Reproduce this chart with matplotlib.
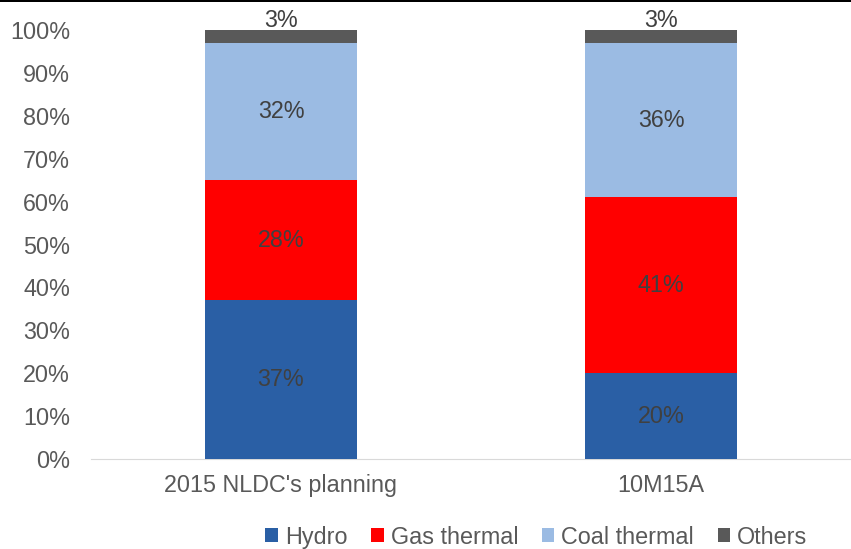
import numpy as np
import matplotlib.pyplot as plt
from matplotlib.patches import Rectangle

plt.rcParams['font.family'] = ['Liberation Sans', 'DejaVu Sans']

categories = ["2015 NLDC's planning", "10M15A"]
series = ["Hydro", "Gas thermal", "Coal thermal", "Others"]
hydro = [37, 20]
gas = [28, 41]
coal = [32, 36]
others = [3, 3]
colors = ["#2A5FA5", "#FF0000", "#9BBBE3", "#595959"]

values = [hydro, gas, coal, others]
fs = 16.8

fig = plt.figure(figsize=(8.51, 5.49), dpi=100)
ax = fig.add_axes([91 / 851, 1 - 459 / 549, 760 / 851, 429 / 549])

x = np.arange(len(categories))
bottom = np.zeros(len(categories))
for name, vals, col in zip(series, values, colors):
    vals = np.array(vals, dtype=float)
    ax.bar(x, vals, 0.4, bottom=bottom, color=col, label=name, zorder=3)
    for xi, b, v in zip(x, bottom, vals):
        if name == "Others":
            ty = b + v + 2.2
        else:
            ty = b + v / 2
        ax.text(xi, ty, "%d%%" % v, ha='center', va='center',
                fontsize=fs, color='#404040', zorder=4)
    bottom += vals

ax.set_xlim(-0.5, 1.5)
ax.set_ylim(0, 100)
ax.set_yticks(np.arange(0, 101, 10))
ax.set_yticklabels(["%d%%" % t for t in range(0, 101, 10)])
ax.set_xticks(x)
ax.set_xticklabels(categories)
ax.tick_params(axis='both', length=0, labelsize=fs, colors='#595959')
ax.tick_params(axis='y', pad=15)
ax.tick_params(axis='x', pad=11)
for s in ['top', 'right', 'left']:
    ax.spines[s].set_visible(False)
ax.spines['bottom'].set_color('#D9D9D9')

ax.legend(loc='center', bbox_to_anchor=(0.586, -0.182), ncol=4, frameon=False,
          fontsize=fs, handlelength=0.55, handleheight=0.55, handletextpad=0.3,
          columnspacing=1.0, labelcolor='#595959')

fig.add_artist(Rectangle((0, 1 - 2 / 549), 1, 2 / 549, transform=fig.transFigure,
                         color='black', lw=0))

fig.savefig('out.png', dpi=100)
